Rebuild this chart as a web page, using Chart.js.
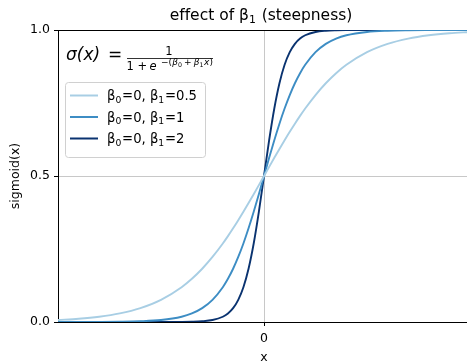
<!DOCTYPE html>
<html lang="en">
<head>
<meta charset="UTF-8">
<title>effect of beta1</title>
<script src="https://cdn.jsdelivr.net/npm/chart.js"></script>
<style>
  body { margin: 0; padding: 0; overflow: hidden; background: #fff; }
  .wrap { position: relative; width: 528px; height: 366px; }
</style>
</head>
<body>
<div class="wrap"><canvas id="chart" width="528" height="366"></canvas></div>
<script>
// x positions where the curves were read
const xs = [-10, -9, -8, -7, -6, -5, -4, -3.5, -3, -2.5, -2, -1.75, -1.5, -1.25, -1, -0.75, -0.5, -0.25, 0,
            0.25, 0.5, 0.75, 1, 1.25, 1.5, 1.75, 2, 2.5, 3, 3.5, 4, 5, 6, 7, 8, 9, 10];

// beta1 = 0.5
const slowCurve = [0.0067, 0.0110, 0.0180, 0.0293, 0.0474, 0.0759, 0.1192, 0.1480, 0.1824, 0.2227, 0.2689, 0.2942,
                   0.3208, 0.3486, 0.3775, 0.4073, 0.4378, 0.4688, 0.5,
                   0.5312, 0.5622, 0.5927, 0.6225, 0.6514, 0.6792, 0.7058, 0.7311, 0.7773, 0.8176, 0.8520, 0.8808,
                   0.9241, 0.9526, 0.9707, 0.9820, 0.9890, 0.9933];
// beta1 = 1
const midCurve = [0.0000, 0.0001, 0.0003, 0.0009, 0.0025, 0.0067, 0.0180, 0.0293, 0.0474, 0.0759, 0.1192, 0.1480,
                  0.1824, 0.2227, 0.2689, 0.3208, 0.3775, 0.4378, 0.5,
                  0.5622, 0.6225, 0.6792, 0.7311, 0.7773, 0.8176, 0.8520, 0.8808, 0.9241, 0.9526, 0.9707, 0.9820,
                  0.9933, 0.9975, 0.9991, 0.9997, 0.9999, 1.0000];
// beta1 = 2
const steepCurve = [0, 0, 0, 0, 0.0000, 0.0000, 0.0003, 0.0009, 0.0025, 0.0067, 0.0180, 0.0293,
                    0.0474, 0.0759, 0.1192, 0.1824, 0.2689, 0.3775, 0.5,
                    0.6225, 0.7311, 0.8176, 0.8808, 0.9241, 0.9526, 0.9707, 0.9820, 0.9933, 0.9975, 0.9991, 0.9997,
                    1.0000, 1, 1, 1, 1, 1];

const seriesLabels = ["β₀=0, β₁=0.5", "β₀=0, β₁=1", "β₀=0, β₁=2"];
const seriesColors = ["#a8cee4", "#3d8dc4", "#0a3370"];
const yTicks = [0, 0.5, 1];
const xTicks = [0];
const titleText = "effect of β₁ (steepness)";

const FONT = "DejaVu Sans";
const SUBS = { "₀": "0", "₁": "1", "₂": "2" };

// draws a string, turning unicode subscript digits into smaller lowered digits
function subText(ctx, str, x, y, size, measureOnly) {
    let w = 0;
    for (const ch of str) {
        if (SUBS[ch]) {
            ctx.font = (size * 0.7) + "px " + FONT;
            if (!measureOnly) ctx.fillText(SUBS[ch], x + w, y + size * 0.2);
            w += ctx.measureText(SUBS[ch]).width + size * 0.06;
        } else {
            ctx.font = size + "px " + FONT;
            if (!measureOnly) ctx.fillText(ch, x + w, y);
            w += ctx.measureText(ch).width;
        }
    }
    return w;
}

// sequence of text pieces: [text, size, italic, dy, gapAfter]
function runs(ctx, x, y, parts) {
    let cx = x;
    parts.forEach(p => {
        ctx.font = (p[2] ? "italic " : "") + p[1] + "px " + FONT;
        ctx.fillText(p[0], cx, y + (p[3] || 0));
        cx += ctx.measureText(p[0]).width + (p[4] || 0);
    });
    return cx;
}

function pts(ys) {
    return xs.map((x, i) => ({ x: x, y: ys[i] }));
}

// title, legend box and formula
const overlay = {
    id: "overlay",
    afterDraw(chart) {
        const ctx = chart.ctx;
        const a = chart.chartArea;
        const L = a.left, T = a.top;
        ctx.save();
        ctx.fillStyle = "#000";
        ctx.textAlign = "left";
        ctx.textBaseline = "alphabetic";

        // title
        const tw = subText(ctx, titleText, 0, 0, 15.5, true);
        subText(ctx, titleText, 261 - tw / 2, 20, 15.5, false);

        // formula
        ctx.font = "italic 17px " + FONT;
        ctx.fillText("σ(x)", L + 8, T + 30);
        ctx.font = "17px " + FONT;
        ctx.fillText("=", L + 50, T + 30);
        ctx.font = "11.5px " + FONT;
        ctx.textAlign = "center";
        ctx.fillText("1", L + 111, T + 25);
        ctx.textAlign = "left";
        ctx.strokeStyle = "#000";
        ctx.lineWidth = 0.8;
        ctx.beginPath();
        ctx.moveTo(L + 69, T + 28.5);
        ctx.lineTo(L + 155, T + 28.5);
        ctx.stroke();
        ctx.font = "11.5px " + FONT;
        ctx.fillText("1", L + 68.5, T + 40);
        ctx.fillText("+", L + 79.5, T + 40);
        ctx.font = "italic 11.5px " + FONT;
        ctx.fillText("e", L + 91.5, T + 40);
        runs(ctx, L + 103, T + 35, [
            ["−", 9, false, 0, 0],
            ["(", 9, false, 0, 0.3],
            ["β", 9, true, 0, 0],
            ["0", 6.3, false, 1.8, 2],
            ["+", 9, false, 0, 2],
            ["β", 9, true, 0, 0],
            ["1", 6.3, false, 1.8, 0.5],
            ["x", 9, true, 0, 0.3],
            [")", 9, false, 0, 0]
        ]);

        // legend
        const bx = L + 7, by = T + 52, bw = 140, bh = 75;
        ctx.fillStyle = "rgba(255,255,255,0.8)";
        ctx.strokeStyle = "#d0d0d0";
        ctx.lineWidth = 1;
        ctx.beginPath();
        ctx.roundRect(bx + 0.5, by + 0.5, bw, bh, 3);
        ctx.fill();
        ctx.stroke();
        chart.data.datasets.forEach((ds, i) => {
            const ly = by + 13.5 + i * 21.5;
            ctx.strokeStyle = ds.borderColor;
            ctx.lineWidth = 2;
            ctx.beginPath();
            ctx.moveTo(bx + 5, ly);
            ctx.lineTo(bx + 33, ly);
            ctx.stroke();
            ctx.fillStyle = "#000";
            subText(ctx, ds.label, bx + 42, ly + 4.5, 13.2, false);
        });
        ctx.restore();
    }
};

new Chart(document.getElementById("chart"), {
    type: "line",
    data: {
        datasets: [
            { label: seriesLabels[0], data: pts(slowCurve), borderColor: seriesColors[0] },
            { label: seriesLabels[1], data: pts(midCurve), borderColor: seriesColors[1] },
            { label: seriesLabels[2], data: pts(steepCurve), borderColor: seriesColors[2] }
        ]
    },
    options: {
        responsive: false,
        animation: false,
        maintainAspectRatio: false,
        layout: { padding: { left: 0, right: 58, top: 30, bottom: 0 } },
        elements: {
            point: { radius: 0 },
            line: { borderWidth: 1.9, cubicInterpolationMode: "monotone", fill: false }
        },
        plugins: {
            legend: { display: false },
            tooltip: { enabled: false },
            title: { display: false }
        },
        scales: {
            x: {
                type: "linear",
                min: -10,
                max: 10,
                afterBuildTicks: s => { s.ticks = xTicks.map(v => ({ value: v })); },
                afterFit: s => { s.height = 44; },
                ticks: { color: "#000", font: { family: FONT, size: 12.5 }, padding: 5, maxRotation: 0 },
                grid: { color: "#c8c8c8", tickColor: "#000", tickLength: 4, lineWidth: 1 },
                border: { display: true, color: "#000", width: 1 },
                title: { display: true, text: "x", color: "#000", font: { family: FONT, size: 12.5 }, padding: { top: 0, bottom: 1 } }
            },
            y: {
                min: 0,
                max: 1,
                afterBuildTicks: s => { s.ticks = yTicks.map(v => ({ value: v })); },
                afterFit: s => { s.width = 58; },
                ticks: { color: "#000", font: { family: FONT, size: 12.5 }, padding: 4, callback: v => v.toFixed(1) },
                grid: {
                    color: c => (c.tick && c.tick.value === 1) ? "#000" : "#c8c8c8",
                    tickColor: "#000",
                    tickLength: 4,
                    lineWidth: 1
                },
                border: { display: true, color: "#000", width: 1 },
                title: { display: true, text: "sigmoid(x)", color: "#000", font: { family: FONT, size: 12.5 }, padding: { top: 8, bottom: 0 } }
            }
        }
    },
    plugins: [overlay]
});
</script>
</body>
</html>
